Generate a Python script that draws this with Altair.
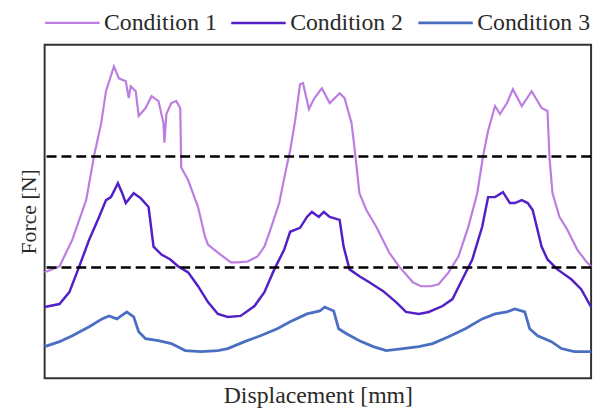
import altair as alt
import pandas as pd

# Series names and colours
conditions = ["Condition 1", "Condition 2", "Condition 3"]
colors = ["#bb7ee0", "#5320c6", "#4a6fc2"]

# Condition 1 (displacement, force) (arbitrary units)
c1_x = [0, 15, 28, 42, 50, 57, 62, 70, 75, 82, 85, 87, 92, 95, 102, 108, 115, 120, 121, 123,
        128, 133, 137, 138, 145, 155, 162, 165, 175, 188, 195, 205, 215, 222, 228, 237, 243, 248, 253, 258,
        261, 267, 272, 280, 288, 298, 303, 310, 313, 318, 325, 335, 348, 358, 372, 380, 390, 398, 408, 418,
        428, 437, 443, 448, 455, 460, 467, 473, 482, 492, 502, 508, 510, 513, 520, 528, 538, 547, 552]
c1_y = [107, 113, 140, 180, 225, 257, 290, 315, 303, 300, 283, 295, 290, 265, 273, 285, 280, 258, 238, 267,
        278, 280, 273, 213, 200, 173, 143, 135, 127, 117, 117, 118, 123, 133, 150, 177, 207, 230, 260, 297,
        298, 272, 282, 293, 278, 288, 283, 258, 233, 187, 170, 153, 127, 113, 97, 93, 93, 95, 107, 123,
        153, 187, 225, 250, 275, 267, 278, 292, 275, 290, 273, 270, 223, 187, 163, 150, 130, 118, 113]

# Condition 2
c2_x = [0, 15, 25, 35, 45, 55, 62, 67, 72, 74, 78, 82, 90, 97, 105, 110, 118, 127, 135, 145,
        155, 165, 175, 185, 198, 212, 222, 232, 242, 248, 258, 265, 270, 277, 282, 288, 298, 302, 308, 318,
        328, 342, 355, 365, 378, 388, 402, 412, 422, 432, 442, 448, 455, 463, 470, 475, 482, 488, 493, 502,
        508, 518, 532, 542, 552]
c2_y = [72, 75, 87, 113, 140, 163, 180, 183, 193, 197, 188, 177, 187, 182, 173, 133, 125, 120, 113, 107,
        93, 77, 65, 62, 63, 73, 87, 110, 130, 148, 152, 163, 168, 163, 168, 163, 160, 133, 110, 103,
        97, 88, 77, 67, 65, 67, 73, 80, 100, 120, 153, 183, 183, 188, 177, 177, 180, 177, 170, 133,
        120, 110, 100, 90, 72]

# Condition 3
c3_x = [0, 15, 28, 45, 58, 65, 73, 83, 90, 95, 102, 115, 128, 142, 158, 175, 185, 202, 218, 235,
        248, 265, 278, 283, 292, 297, 305, 318, 332, 345, 362, 378, 392, 408, 425, 442, 455, 467, 475, 485,
        490, 498, 512, 522, 535, 552]
c3_y = [32, 37, 43, 52, 60, 63, 60, 67, 62, 47, 40, 38, 35, 28, 27, 28, 30, 37, 43, 50,
        57, 65, 68, 72, 68, 50, 45, 38, 32, 28, 30, 32, 35, 42, 50, 60, 65, 67, 70, 67,
        50, 43, 37, 30, 27, 27]

# Dashed threshold levels
dash_levels = [112, 224]

rows = []
for name, xs, ys in zip(conditions, [c1_x, c2_x, c3_x], [c1_y, c2_y, c3_y]):
    assert len(xs) == len(ys)
    for x, y in zip(xs, ys):
        rows.append({"cond": name, "x": x, "y": y})
df = pd.DataFrame(rows)

FONT = "Liberation Serif"
TXT = "#2a2a2a"

x_enc = alt.X("x:Q", scale=alt.Scale(domain=[0, 552], nice=False, zero=False),
              axis=alt.Axis(title="Displacement [mm]", labels=False, ticks=False, domain=False,
                            grid=False, titleFont=FONT, titleFontSize=24, titleFontWeight="normal",
                            titleColor=TXT, titlePadding=5))
y_enc = alt.Y("y:Q", scale=alt.Scale(domain=[0, 337], nice=False, zero=False),
              axis=alt.Axis(title="Force [N]", labels=False, ticks=False, domain=False,
                            grid=False, titleFont=FONT, titleFontSize=22, titleFontWeight="normal",
                            titleColor=TXT, titlePadding=4))

lines = alt.Chart(df).mark_line().encode(
    x=x_enc,
    y=y_enc,
    color=alt.Color("cond:N", scale=alt.Scale(domain=conditions, range=colors),
                    legend=alt.Legend(title=None, orient="none", legendX=-1, legendY=-51,
                                      direction="horizontal", symbolType="stroke",
                                      symbolStrokeWidth=3, symbolSize=3025,
                                      labelFont=FONT, labelFontSize=24, labelColor=TXT,
                                      columnPadding=8, labelOffset=3, labelLimit=300)),
    strokeWidth=alt.StrokeWidth("cond:N", scale=alt.Scale(domain=conditions, range=[2.2, 2.8, 3.0]),
                                legend=None),
)

rules = alt.Chart(pd.DataFrame({"y": dash_levels})).mark_rule(
    strokeDash=[10, 5], strokeWidth=2.5, color="black"
).encode(y=alt.Y("y:Q"))

chart = alt.layer(lines, rules).properties(
    width=552, height=337, autosize="none",
    padding={"left": 37, "top": 35, "right": 8, "bottom": 30},
).configure_view(stroke="#333333", strokeWidth=2)

chart.save("out.html", embed_options={"renderer": "svg", "actions": False})
